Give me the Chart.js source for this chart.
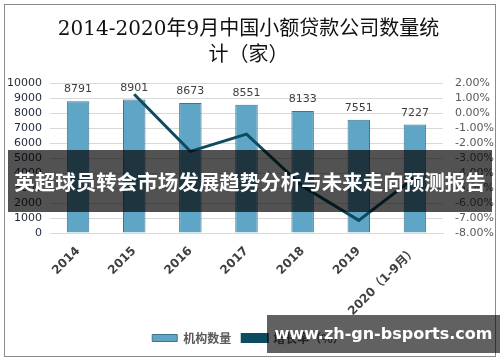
<!DOCTYPE html>
<html>
<head>
<meta charset="utf-8">
<script src="https://cdn.jsdelivr.net/npm/chart.js@4"></script>
<style>
  body { margin: 0; background: #fff; }
  #wrap { position: relative; width: 500px; height: 362px; }
  #frame { position: absolute; left: 4px; top: 4px; width: 490px; height: 351px; border: 1px solid #8a8a8a; pointer-events: none; }
  .band { position: absolute; color: #fff; font-family: "Noto Sans CJK SC", sans-serif; font-weight: bold; text-align: center; white-space: nowrap; }
  #band1 { left: 8px; top: 150px; width: 484px; height: 62px; line-height: 62px; font-size: 20.5px; background: rgba(0,0,0,0.68); }
  #band2 { left: 267px; top: 315px; width: 233px; height: 38px; line-height: 38px; font-size: 16px; background: rgba(0,0,0,0.62); font-family: "DejaVu Sans", sans-serif; }
</style>
</head>
<body>
<div id="wrap">
  <canvas id="chart" width="500" height="362"></canvas>
  <div id="frame"></div>
  <div class="band" id="band1">英超球员转会市场发展趋势分析与未来走向预测报告</div>
  <div class="band" id="band2">www.zh-gn-bsports.com</div>
</div>
<script>
const years = ['2014', '2015', '2016', '2017', '2018', '2019', '2020（1-9月）'];
const counts = [8791, 8901, 8673, 8551, 8133, 7551, 7227];
const growth = [null, 1.25, -2.56, -1.41, -4.89, -7.16, -4.29];

// value labels above the bars
const barLabels = {
    id: 'barLabels',
    afterDatasetsDraw(chart) {
        const ctx = chart.ctx;
        const meta = chart.getDatasetMeta(1);
        ctx.save();
        ctx.font = '11px "DejaVu Sans", sans-serif';
        ctx.fillStyle = '#404040';
        ctx.textAlign = 'center';
        ctx.textBaseline = 'bottom';
        meta.data.forEach((bar, i) => {
            ctx.fillText(counts[i], bar.x, bar.y - 6);
        });
        ctx.restore();
    }
};

new Chart(document.getElementById('chart'), {
    data: {
        labels: years,
        datasets: [
            {
                type: 'line',
                label: '增长率（%）',
                data: growth,
                yAxisID: 'y1',
                borderColor: '#0d4b60',
                backgroundColor: '#0d4b60',
                borderWidth: 3,
                pointRadius: 0,
                tension: 0,
                order: 0
            },
            {
                type: 'bar',
                label: '机构数量',
                data: counts,
                yAxisID: 'y',
                backgroundColor: '#5fa5c6',
                borderColor: '#3d7590',
                borderWidth: 1,
                barPercentage: 0.5,
                categoryPercentage: 0.8,
                order: 1
            }
        ]
    },
    options: {
        responsive: false,
        animation: false,
        layout: { padding: { left: 2, right: 5, bottom: 8, top: 0 } },
        plugins: {
            title: {
                display: true,
                text: ['2014-2020年9月中国小额贷款公司数量统', '计（家）'],
                font: { family: '"DejaVu Serif", "Noto Sans CJK SC", serif', size: 20, weight: 'normal', lineHeight: 1.3 },
                color: '#111',
                padding: { top: 17, bottom: 14 }
            },
            legend: {
                position: 'bottom',
                reverse: true,
                labels: {
                    boxWidth: 25,
                    boxHeight: 7,
                    color: '#595959',
                    font: { family: '"Noto Sans CJK SC", sans-serif', size: 12, weight: 'bold' },
                    padding: 11
                }
            },
            tooltip: { enabled: false }
        },
        scales: {
            x: {
                grid: { display: false },
                border: { color: '#d9d9d9' },
                ticks: {
                    minRotation: 45,
                    maxRotation: 45,
                    color: '#404040',
                    font: { family: '"DejaVu Sans", "Noto Sans CJK SC", sans-serif', size: 12, weight: 'bold' }
                },
                afterFit: s => { s.height = 88; }
            },
            y: {
                position: 'left',
                min: 0,
                max: 10000,
                ticks: {
                    stepSize: 1000,
                    autoSkip: false,
                    padding: 8,
                    color: '#1f2a3a',
                    font: { family: '"DejaVu Sans", sans-serif', size: 11 },
                    callback: v => String(v)
                },
                grid: { color: '#d9d9d9', drawTicks: false },
                border: { display: false },
                afterFit: s => { s.width = 48; }
            },
            y1: {
                position: 'right',
                min: -8,
                max: 2,
                ticks: {
                    stepSize: 1,
                    autoSkip: false,
                    color: '#595959',
                    padding: 4,
                    font: { family: '"DejaVu Sans", sans-serif', size: 11 },
                    callback: v => v.toFixed(2) + '%'
                },
                grid: { display: false },
                border: { display: false },
                afterFit: s => { s.width = 52; }
            }
        }
    },
    plugins: [barLabels]
});
</script>
</body>
</html>
